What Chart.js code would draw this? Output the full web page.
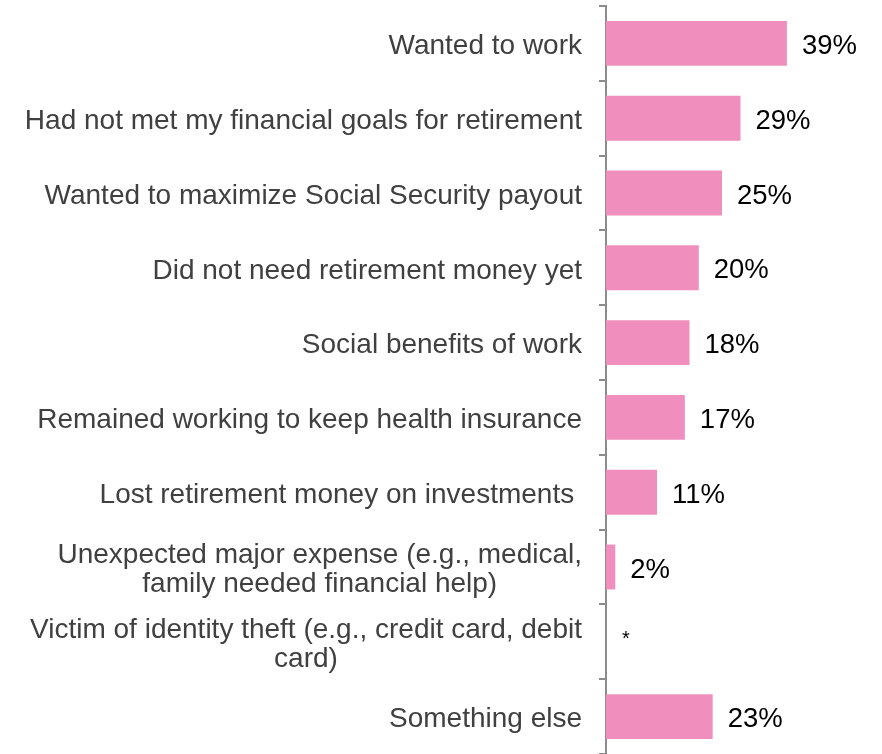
<!DOCTYPE html>
<html>
<head>
<meta charset="utf-8">
<script src="https://cdn.jsdelivr.net/npm/chart.js@4.4.1/dist/chart.umd.min.js"></script>
<style>
  html, body { margin: 0; padding: 0; background: #fff; }
  .wrap { width: 882px; height: 754px; position: relative; }
</style>
</head>
<body>
<div class="wrap"><canvas id="reasons"></canvas></div>
<script>
const reasons = [
  "Wanted to work",
  "Had not met my financial goals for retirement",
  "Wanted to maximize Social Security payout",
  "Did not need retirement money yet",
  "Social benefits of work",
  "Remained working to keep health insurance",
  "Lost retirement money on investments ",
  ["Unexpected major expense (e.g., medical,", "family needed financial help)"],
  ["Victim of identity theft (e.g., credit card, debit", "card)"],
  "Something else"
];
// share of respondents, percent; null = less than 0.5%
const shares = [39, 29, 25, 20, 18, 17, 11, 2, null, 23];
const shareLabels = shares.map(v => v === null ? "*" : v + "%");

const FONT = "'Liberation Sans', Arial, sans-serif";
const LINE_H = 29;

// category names: right edge on a fixed line, wrapped lines centred under each other
const categoryLabels = {
  id: "categoryLabels",
  afterDraw(chart) {
    const ctx = chart.ctx;
    const y = chart.scales.y;
    const right = y.right - 24;
    ctx.save();
    ctx.font = "28px " + FONT;
    ctx.fillStyle = "#404040";
    ctx.textBaseline = "middle";
    ctx.textAlign = "center";
    chart.data.labels.forEach((lab, i) => {
      const lines = Array.isArray(lab) ? lab : [lab];
      const w = Math.max(...lines.map(l => ctx.measureText(l.trimEnd()).width));
      const trailing = ctx.measureText(lines[0]).width - ctx.measureText(lines[0].trimEnd()).width;
      const cx = right - trailing - w / 2;
      const cy = y.getPixelForTick(i) + 3;
      const top = cy - (lines.length - 1) * LINE_H / 2;
      lines.forEach((l, k) => ctx.fillText(l.trimEnd(), cx, top + k * LINE_H));
    });
    ctx.restore();
  }
};

// writes the percentage just past the end of each bar
const barLabels = {
  id: "barLabels",
  afterDatasetsDraw(chart) {
    const ctx = chart.ctx;
    const meta = chart.getDatasetMeta(0);
    const x0 = chart.scales.x.getPixelForValue(0);
    ctx.save();
    ctx.fillStyle = "#000";
    ctx.textBaseline = "middle";
    meta.data.forEach((bar, i) => {
      const label = shareLabels[i];
      if (label === "*") {
        ctx.font = "20px " + FONT;
        ctx.fillText(label, x0 + 16, bar.y - 2);
      } else {
        ctx.font = "27.5px " + FONT;
        ctx.fillText(label, bar.x + 15, bar.y + 3);
      }
    });
    ctx.restore();
  }
};

new Chart(document.getElementById("reasons"), {
  type: "bar",
  data: {
    labels: reasons,
    datasets: [{
      data: shares,
      backgroundColor: "#f08fbe",
      borderWidth: 0,
      barPercentage: 0.6,
      categoryPercentage: 1
    }]
  },
  options: {
    indexAxis: "y",
    responsive: true,
    maintainAspectRatio: false,
    animation: false,
    layout: { padding: { top: 6, right: 0, bottom: 0, left: 0 } },
    plugins: {
      legend: { display: false },
      tooltip: { enabled: false }
    },
    scales: {
      x: {
        display: false,
        min: 0,
        max: 59.5
      },
      y: {
        afterFit(scale) {
          scale.width = 606;
          // no half-label padding above and below, the axis runs full height
          scale.paddingTop = 0;
          scale.paddingBottom = 0;
        },
        border: { display: true, color: "#8c8c8c", width: 2 },
        grid: {
          display: true,
          offset: true,
          drawOnChartArea: false,
          drawTicks: true,
          tickLength: 7,
          color: "#8c8c8c",
          lineWidth: 2
        },
        // names are drawn by categoryLabels so wrapped lines can be centred
        ticks: { display: false }
      }
    }
  },
  plugins: [categoryLabels, barLabels]
});
</script>
</body>
</html>
